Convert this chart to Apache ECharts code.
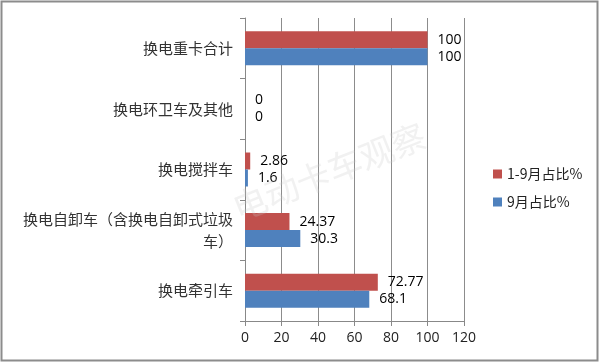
<!DOCTYPE html>
<html><head><meta charset="utf-8">
<script src="https://cdn.jsdelivr.net/npm/echarts@6/dist/echarts.min.js"></script>
<style>html,body{margin:0;padding:0;background:#fff}#c{width:600px;height:363px}</style>
</head><body><div id="c"></div>
<script>
const categories = ['换电牵引车', '换电自卸车（含换电自卸式垃圾车）', '换电搅拌车', '换电环卫车及其他', '换电重卡合计'];
const seriesNames = ['1-9月占比%', '9月占比%'];
const ytdShare = [72.77, 24.37, 2.86, 0, 100];
const septShare = [68.1, 30.3, 1.6, 0, 100];
const xTicks = [0, 20, 40, 60, 80, 100, 120];

const chart = echarts.init(document.getElementById('c'), null, {renderer: 'canvas'});
const lblFont = {fontFamily: 'Open Sans, Noto Sans, sans-serif', fontSize: 14, color: '#000'};
chart.setOption({
  animation: false,
  backgroundColor: '#fff',
  graphic: [
    {type: 'rect', shape: {x: 1.5, y: 1.5, width: 596, height: 359}, style: {fill: 'none', stroke: '#8c8c8c', lineWidth: 2}, z: 0},
    {type: 'text', left: 228, top: 118, rotation: 0.38, style: {text: '电动卡车观察', font: '34px "Noto Sans CJK SC"', fill: 'rgba(200,200,200,0.25)'}, z: 100}
  ],
  legend: {
    orient: 'vertical', left: 488, top: 162, itemWidth: 9, itemHeight: 9, itemGap: 14,
    icon: 'rect',
    textStyle: {fontFamily: 'Noto Sans CJK SC', fontSize: 14, color: '#222'},
    data: seriesNames
  },
  grid: {left: 245, right: 136, top: 18, bottom: 42, containLabel: false},
  xAxis: {
    type: 'value', min: xTicks[0], max: xTicks[xTicks.length - 1], interval: 20,
    axisLine: {show: true, lineStyle: {color: '#888'}},
    axisTick: {show: true, length: 5, lineStyle: {color: '#888'}},
    splitLine: {show: true, lineStyle: {color: '#8c8c8c'}},
    axisLabel: {fontFamily: 'Open Sans, sans-serif', fontSize: 14, color: '#222', margin: 10}
  },
  yAxis: {
    type: 'category', data: categories,
    axisLine: {show: true, lineStyle: {color: '#888'}},
    axisTick: {show: true, length: 5, inside: false, lineStyle: {color: '#888'}},
    axisLabel: {fontFamily: 'Noto Sans CJK SC', fontSize: 15, color: '#333', margin: 12, width: 225, overflow: 'break', lineHeight: 22, align: 'right'}
  },
  series: [
    {name: seriesNames[0], type: 'bar', data: ytdShare, barWidth: 17, barGap: '0%',
     itemStyle: {color: '#C0504D'},
     label: Object.assign({show: true, position: 'right', distance: 10}, lblFont)},
    {name: seriesNames[1], type: 'bar', data: septShare, barWidth: 17, barGap: '0%',
     itemStyle: {color: '#4F81BD'},
     label: Object.assign({show: true, position: 'right', distance: 10}, lblFont)}
  ]
});
</script></body></html>
